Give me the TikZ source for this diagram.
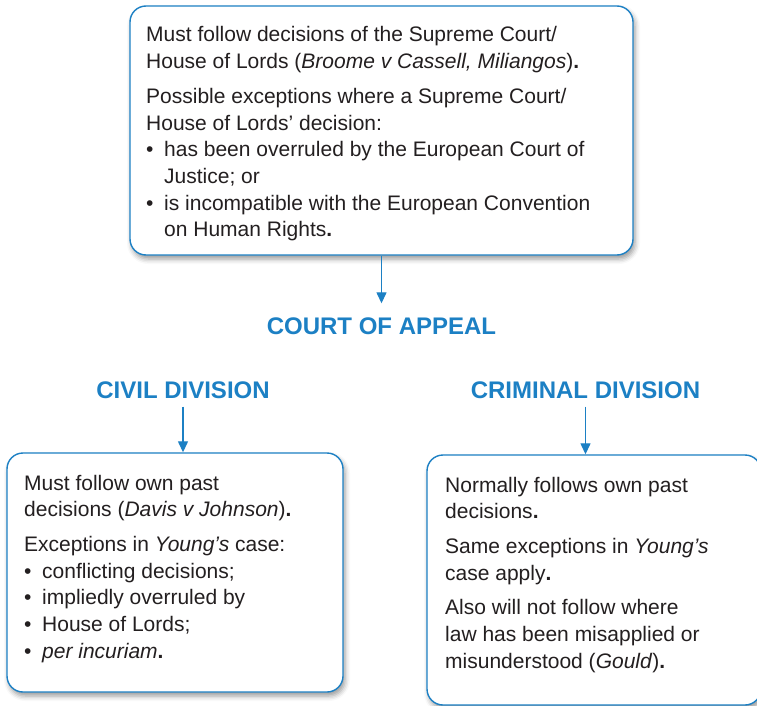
\documentclass[tikz,border=0pt]{standalone}
\usepackage{fontspec}
\setmainfont{Liberation Sans}
\usetikzlibrary{arrows.meta,shadows.blur}

\definecolor{lawblue}{RGB}{28,128,196}
\definecolor{ink}{RGB}{35,31,32}

% bullet item start and continuation indent
\newcommand{\bl}{\makebox[18pt][l]{\textbullet}}
\newcommand{\ind}{\hspace*{18pt}}
% body text of a panel
\newcommand{\boxtext}[2]{\parbox[t]{#1}{\fontsize{21}{26.7}\selectfont\raggedright
  \setlength{\parskip}{8pt}\setlength{\parindent}{0pt}#2}}

\begin{document}
\begin{tikzpicture}[x=1pt,y=-1pt,
  panel/.style={draw=lawblue, line width=1.4pt, fill=white, rounded corners=16pt,
    blur shadow={shadow xshift=2pt, shadow yshift=-4pt, shadow blur radius=5pt, shadow opacity=40},
    inner sep=0pt},
  heading/.style={text=lawblue, font=\fontsize{24}{28}\selectfont\bfseries, inner sep=0pt},
  bodytext/.style={inner sep=0pt, anchor=base west, text=ink},
  link/.style={draw=lawblue, line width=1.3pt, -{Triangle[width=10pt,length=11pt]}}]

\useasboundingbox (0,0) rectangle (757,706);

% panels
\node[panel, minimum width=503pt, minimum height=249pt] (upper) at (381.5,130.5) {};
\node[panel, minimum width=336pt, minimum height=239pt] (civbox) at (175,572.5) {};
\node[panel, minimum width=334pt, minimum height=250pt] (crimbox) at (594,580) {};

% panel texts
\node[bodytext] (uppertext) at (146,42) {\boxtext{490pt}{%
Must follow decisions of the Supreme Court/\\
House of Lords (\textit{Broome v Cassell, Miliangos})\textbf{.}\par
Possible exceptions where a Supreme Court/\\
House of Lords’ decision:\\
\bl has been overruled by the European Court of\\
\ind Justice; or\\
\bl is incompatible with the European Convention\\
\ind on Human Rights\textbf{.}}};

\node[bodytext] (civtext) at (24,490) {\boxtext{315pt}{%
Must follow own past\\
decisions (\textit{Davis v Johnson})\textbf{.}\par
Exceptions in \textit{Young’s} case:\\
\bl conflicting decisions;\\
\bl impliedly overruled by\\
\bl House of Lords;\\
\bl \textit{per incuriam}\textbf{.}}};

\node[bodytext] (crimtext) at (445,492) {\boxtext{305pt}{%
Normally follows own past\\
decisions\textbf{.}\par
Same exceptions in \textit{Young’s}\\
case apply\textbf{.}\par
Also will not follow where\\
law has been misapplied or\\
misunderstood (\textit{Gould})\textbf{.}}};

% headings
\node[heading] (coa) at (381.5,326) {COURT OF APPEAL};
\node[heading] (civ) at (183,390) {CIVIL DIVISION};
\node[heading] (crim) at (585.5,390) {CRIMINAL DIVISION};

% connectors
\draw[link, shorten >=14pt] (upper.south) -- (coa.north);
\draw[link, shorten <=8pt] (civ.south) -- (civ.south |- civbox.north);
\draw[link, shorten <=8pt] (crim.south) -- (crim.south |- crimbox.north);
\end{tikzpicture}
\end{document}
